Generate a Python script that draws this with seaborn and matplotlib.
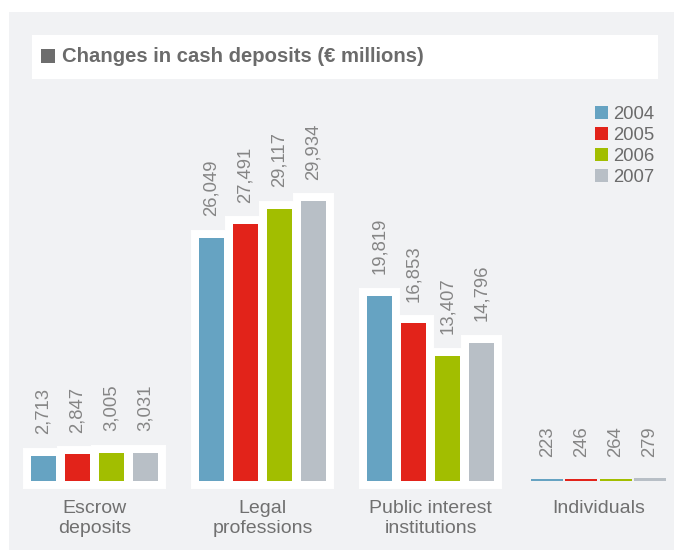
import matplotlib
matplotlib.use("Agg")
import matplotlib.pyplot as plt
from matplotlib.patches import Rectangle, Patch
import seaborn as sns
import pandas as pd

# Data (€ millions)
categories = ["Escrow\ndeposits", "Legal\nprofessions", "Public interest\ninstitutions", "Individuals"]
years = ["2004", "2005", "2006", "2007"]
deposits_2004 = [2713, 26049, 19819, 223]
deposits_2005 = [2847, 27491, 16853, 246]
deposits_2006 = [3005, 29117, 13407, 264]
deposits_2007 = [3031, 29934, 14796, 279]
year_colors = ["#66a3c2", "#e2231a", "#a2be00", "#b8bfc6"]

series = [deposits_2004, deposits_2005, deposits_2006, deposits_2007]
df = pd.DataFrame(
    [{"category": c, "year": y, "value": v}
     for y, vals in zip(years, series) for c, v in zip(categories, vals)]
)

sns.set_theme(style="white")
plt.rcParams["font.family"] = ["Liberation Sans", "DejaVu Sans"]

W, H = 674, 550
fig = plt.figure(figsize=(W / 100, H / 100), dpi=100, facecolor="white")


def fx(px):
    return px / W


def fy(py):
    return 1 - py / H


# light grey panel
fig.add_artist(Rectangle((fx(9), 0), 1 - fx(9), fy(12), transform=fig.transFigure,
                         facecolor="#f1f2f4", edgecolor="none", zorder=0))
# title strip
fig.add_artist(Rectangle((fx(32), fy(79)), fx(658) - fx(32), fy(35) - fy(79),
                         transform=fig.transFigure, facecolor="white",
                         edgecolor="none", zorder=1))
fig.add_artist(Rectangle((fx(41), fy(63)), 14 / W, 14 / H, transform=fig.transFigure,
                         facecolor="#6d6d6d", edgecolor="none", zorder=2))
fig.text(fx(62), fy(57), "Changes in cash deposits (€ millions)", ha="left", va="center",
         fontsize=14.6, fontweight="bold", color="#6b6b6b", zorder=3)

units_per_px = 107
ax = fig.add_axes([fx(10.5), fy(481), 672 / W, (481 - 12) / H])
ax.set_facecolor("none")
ax.set_zorder(2)

# white stepped backing behind the bars
sns.barplot(data=df, x="category", y="value", hue="year", palette=["white"] * 4,
            width=0.81, gap=0.29, linewidth=11.5, edgecolor="white", saturation=1,
            errorbar=None, legend=False, ax=ax)
n_back = len(ax.patches)
for p in ax.patches:
    p.set_clip_on(False)
    if p.get_x() + p.get_width() / 2 > 2.5:
        p.set_visible(False)

# coloured bars
sns.barplot(data=df, x="category", y="value", hue="year", palette=year_colors,
            width=0.81, gap=0.29, linewidth=0, saturation=1,
            errorbar=None, legend=False, ax=ax)
front = ax.patches[n_back:]
for p in front:
    p.set_clip_on(False)
    cx = p.get_x() + p.get_width() / 2
    if cx > 2.5:
        w = 32 / 168
        p.set_x(cx - w / 2)
        p.set_width(w)

for cont in ax.containers[len(years):]:
    ax.bar_label(cont, fmt="{:,.0f}", rotation=90, padding=15.5, fontsize=13.3,
                 color="#858585", clip_on=False)

ax.set_xlim(-0.5, 3.5)
ax.set_ylim(0, (481 - 12) * units_per_px)
ax.set_xlabel("")
ax.set_ylabel("")
ax.set_yticks([])
ax.tick_params(axis="x", length=0, pad=14, labelsize=14, labelcolor="#707070")
for lbl in ax.get_xticklabels():
    lbl.set_linespacing(1.2)
sns.despine(ax=ax, left=True, bottom=True)

handles = [Patch(facecolor=c, edgecolor="none", label=y) for c, y in zip(year_colors, years)]
fig.legend(handles=handles, loc="upper left", bbox_to_anchor=(fx(595), fy(106)),
           bbox_transform=fig.transFigure, frameon=False, fontsize=13.3,
           handlelength=0.7, handleheight=0.7, handletextpad=0.3,
           labelspacing=0.22, borderpad=0, borderaxespad=0, labelcolor="#6b6b6b")

fig.savefig("out.png", dpi=100, facecolor="white")
